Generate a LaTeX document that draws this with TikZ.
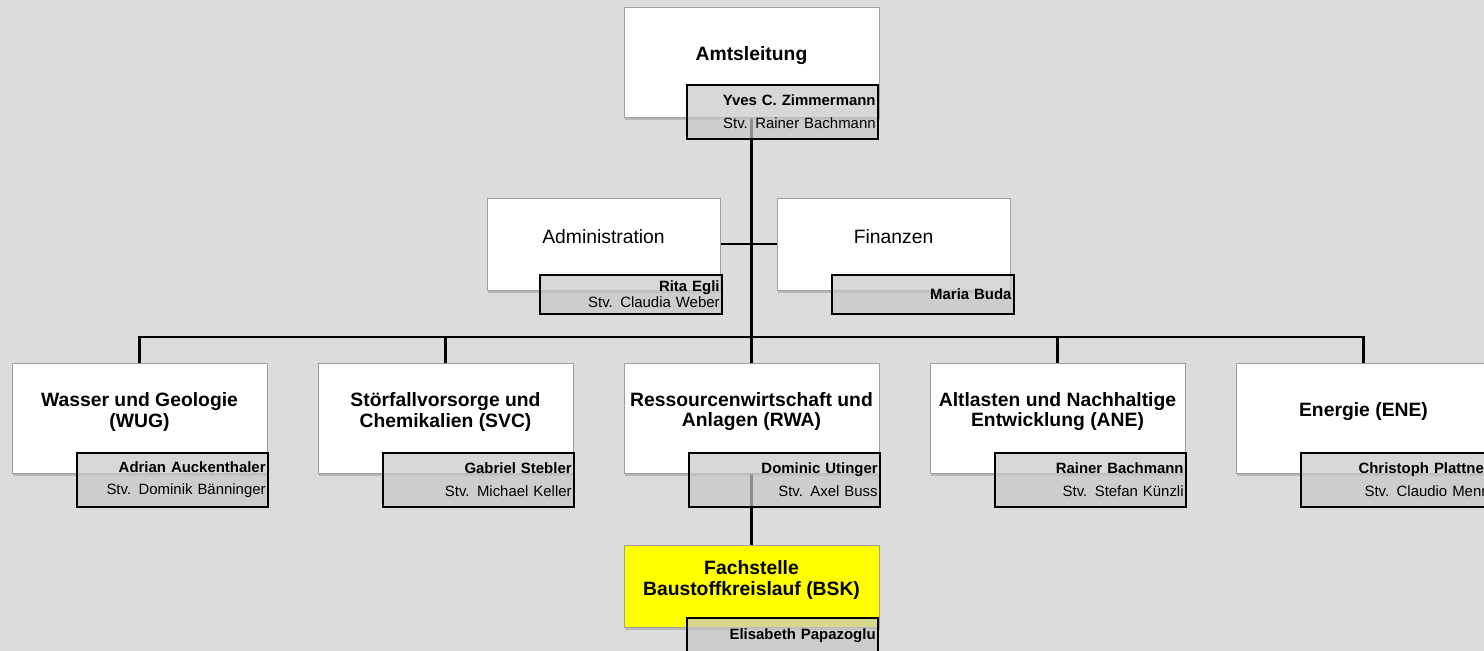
\documentclass[tikz,border=0pt]{standalone}
\usepackage{fontspec}
\setmainfont{Liberation Sans}
\usepackage{tikz}
\usetikzlibrary{positioning,backgrounds,shadows}
\definecolor{canvas}{RGB}{221,220,218}
\definecolor{frame}{RGB}{160,160,160}
\definecolor{bskyellow}{RGB}{255,255,0}
\newcommand{\pers}[2]{\textbf{#1}\\#2}

\begin{document}
\begin{tikzpicture}[x=0.02cm,y=-0.02cm,font=\fontsize{8.5}{12.8}\selectfont]
\tikzset{
  boxbase/.style={draw=frame,line width=0.4pt,fill=white,
    drop shadow={shadow xshift=0.8pt,shadow yshift=-1.6pt,opacity=0.4}},
  unit/.style={boxbase,minimum width=5.1cm,minimum height=2.2cm,
    label={[align=center,font=\bfseries\fontsize{11}{11.4}\selectfont,yshift=0.12cm]center:#1}},
  staff/.style={boxbase,minimum width=4.66cm,minimum height=1.84cm,
    label={[font=\fontsize{11}{13}\selectfont,yshift=0.14cm]center:#1}},
  head/.style={anchor=north east,draw=black,line width=1pt,fill=black!22,
    fill opacity=0.71,text opacity=1,minimum width=3.82cm,minimum height=1.08cm,
    text width=3.72cm,align=right,inner xsep=0.05cm},
  headsmall/.style={head,minimum width=3.64cm,minimum height=0.78cm,text width=3.54cm,
    font=\fontsize{8.5}{9.1}\selectfont},
  link/.style={line width=1.7pt}
}
\useasboundingbox (0,0) rectangle (1484,651);
\begin{scope}[on background layer]
\fill[canvas] (0,0) rectangle (1484,651);
\end{scope}

% Amtsleitung
\node[unit=Amtsleitung] (amt) at (751.5,62) {};
\node[head] (amtN) at (879,84) {\pers{Yves C. Zimmermann}{Stv. Rainer Bachmann}};

% Stab
\node[staff=Administration] (adm) at (603.5,244) {};
\node[headsmall] (admN) at (723,274) {\pers{Rita Egli}{Stv. Claudia Weber}};
\node[staff=Finanzen] (fin) at (893.5,244) {};
\node[headsmall] (finN) at (1015,274) {\textbf{Maria Buda}};

% Abteilungen
\node[unit={Wasser und Geologie\\(WUG)}] (wug) at (139.5,418) {};
\node[head] (wugN) at (269,452) {\pers{Adrian Auckenthaler}{Stv. Dominik Bänninger}};
\node[unit={Störfallvorsorge und\\Chemikalien (SVC)}] (svc) at (445.5,418) {};
\node[head] (svcN) at (575,452) {\pers{Gabriel Stebler}{Stv. Michael Keller}};
\node[unit={Ressourcenwirtschaft und\\Anlagen (RWA)}] (rwa) at (751.5,418) {};
\node[head] (rwaN) at (881,452) {\pers{Dominic Utinger}{Stv. Axel Buss}};
\node[unit={Altlasten und Nachhaltige\\Entwicklung (ANE)}] (ane) at (1057.5,418) {};
\node[head] (aneN) at (1187,452) {\pers{Rainer Bachmann}{Stv. Stefan Künzli}};
\node[unit={Energie (ENE)}] (ene) at (1363.5,418) {};
\node[head] (eneN) at (1493,452) {\pers{Christoph Plattner}{Stv. Claudio Menn}};

% Fachstelle
\node[unit={Fachstelle\\Baustoffkreislauf (BSK)},fill=bskyellow,minimum height=1.64cm] (bsk) at (751.5,586) {};
\node[head] (bskN) at (879,617) {\textbf{Elisabeth Papazoglu}\\\phantom{x}};

\coordinate (bus) at (751.5,337);
\begin{scope}[on background layer]
\draw[link] (amt) -- (rwa);
\draw[link] (adm) -- (fin);
\draw[link] (rwa) -- (bsk);
\draw[link] (wug.north) |- (bus) -| (ene.north);
\draw[link] (svc.north) |- (bus) -| (ane.north);
\end{scope}
\end{tikzpicture}
\end{document}
